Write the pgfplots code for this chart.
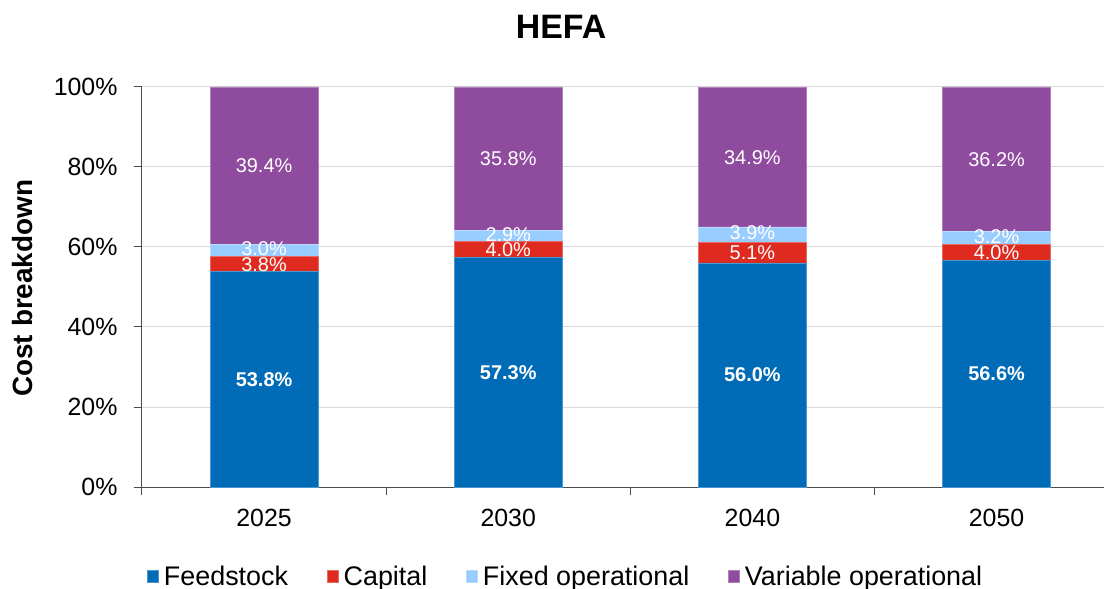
\documentclass[border=0pt]{standalone}
\usepackage{fontspec}
\setmainfont{Liberation Sans}
\usepackage{pgfplots}
\pgfplotsset{compat=1.18}
\definecolor{cFeed}{HTML}{006BB6}
\definecolor{cCap}{HTML}{DF2A1F}
\definecolor{cFix}{HTML}{99CCFF}
\definecolor{cVar}{HTML}{8F4B9D}
\definecolor{gridc}{HTML}{D9D9D9}
\tikzset{lbl/.style={text=white, font=\fontsize{20}{22}\selectfont, anchor=center, inner sep=0pt},
         lblb/.style={text=white, font=\fontsize{20}{22}\bfseries\selectfont, anchor=center, inner sep=0pt}}
\begin{document}
\begin{tikzpicture}
\begin{axis}[
  at={(0bp,0bp)}, anchor=south west,
  scale only axis=true,
  width=962bp, height=400bp,
  xmin=-0.5, xmax=3.44,
  ymin=0, ymax=100,
  ybar stacked,
  bar width=108bp,
  axis lines=left,
  axis line style={-, black!70, line width=1bp},
  xtick={0,1,2,3},
  xticklabels={2025,2030,2040,2050},
  xtick style={draw=none},
  extra x ticks={-0.5,0.5,1.5,2.5},
  extra x tick labels={},
  extra x tick style={grid=none, xtick style={draw=black!70, line width=1bp}},
  ytick={0,20,40,60,80,100},
  yticklabels={0\%,20\%,40\%,60\%,80\%,100\%},
  ytick style={draw=black!70, line width=1bp},
  major tick length=8bp,
  tick align=outside,
  ymajorgrids=true,
  grid style={gridc, line width=1bp},
  tick label style={font=\fontsize{25}{28}\selectfont},
  xticklabel style={yshift=-11bp},
  yticklabel style={xshift=-13bp},
  title={HEFA},
  title style={font=\fontsize{34}{38}\bfseries\selectfont, at={(0.4356,1)}, anchor=base, yshift=43bp},
  ylabel={Cost breakdown},
  ylabel style={font=\fontsize{28}{32}\bfseries\selectfont, at={(axis description cs:-0.124,0.497)}, anchor=center},
  legend style={at={(0.44,-0.2225)}, anchor=center, draw=none, fill=none,
    legend columns=4, font=\fontsize{27}{30}\selectfont,
    /tikz/every odd column/.append style={column sep=4bp},
    /tikz/every even column/.append style={column sep=38bp},
    nodes={inner sep=1bp}},
  legend cell align=left,
  legend image code/.code={\fill[#1] (0bp,-6bp) rectangle (11bp,6bp);},
  clip=false,
]
\addplot[fill=cFeed, draw=cFeed!70!white, line width=0.6bp] coordinates {(0,53.8) (1,57.3) (2,56.0) (3,56.6)};
\addlegendentry{Feedstock}
\addplot[fill=cCap, draw=cCap!70!white, line width=0.6bp] coordinates {(0,3.8) (1,4.0) (2,5.1) (3,4.0)};
\addlegendentry{Capital}
\addplot[fill=cFix, draw=cFix!70!white, line width=0.6bp] coordinates {(0,3.0) (1,2.9) (2,3.9) (3,3.2)};
\addlegendentry{Fixed operational}
\addplot[fill=cVar, draw=cVar!70!white, line width=0.6bp] coordinates {(0,39.4) (1,35.8) (2,34.9) (3,36.2)};
\addlegendentry{Variable operational}
\coordinate (f0) at (axis cs:0,26.9);
\coordinate (f1) at (axis cs:1,28.65);
\coordinate (f2) at (axis cs:2,28.0);
\coordinate (f3) at (axis cs:3,28.3);
\coordinate (c0) at (axis cs:0,55.7);
\coordinate (c1) at (axis cs:1,59.3);
\coordinate (c2) at (axis cs:2,58.55);
\coordinate (c3) at (axis cs:3,58.6);
\coordinate (x0) at (axis cs:0,59.6);
\coordinate (x1) at (axis cs:1,63.0);
\coordinate (x2) at (axis cs:2,63.5);
\coordinate (x3) at (axis cs:3,62.6);
\coordinate (v0) at (axis cs:0,80.3);
\coordinate (v1) at (axis cs:1,82.1);
\coordinate (v2) at (axis cs:2,82.45);
\coordinate (v3) at (axis cs:3,81.9);
\end{axis}
\node[lblb] at (f0) {53.8\%};
\node[lblb] at (f1) {57.3\%};
\node[lblb] at (f2) {56.0\%};
\node[lblb] at (f3) {56.6\%};
\node[lbl] at (c0) {3.8\%};
\node[lbl] at (c1) {4.0\%};
\node[lbl] at (c2) {5.1\%};
\node[lbl] at (c3) {4.0\%};
\node[lbl] at (x0) {3.0\%};
\node[lbl] at (x1) {2.9\%};
\node[lbl] at (x2) {3.9\%};
\node[lbl] at (x3) {3.2\%};
\node[lbl] at (v0) {39.4\%};
\node[lbl] at (v1) {35.8\%};
\node[lbl] at (v2) {34.9\%};
\node[lbl] at (v3) {36.2\%};
\pgfresetboundingbox
\path (-142bp,-102bp) rectangle (962bp,487bp);
\end{tikzpicture}
\end{document}
